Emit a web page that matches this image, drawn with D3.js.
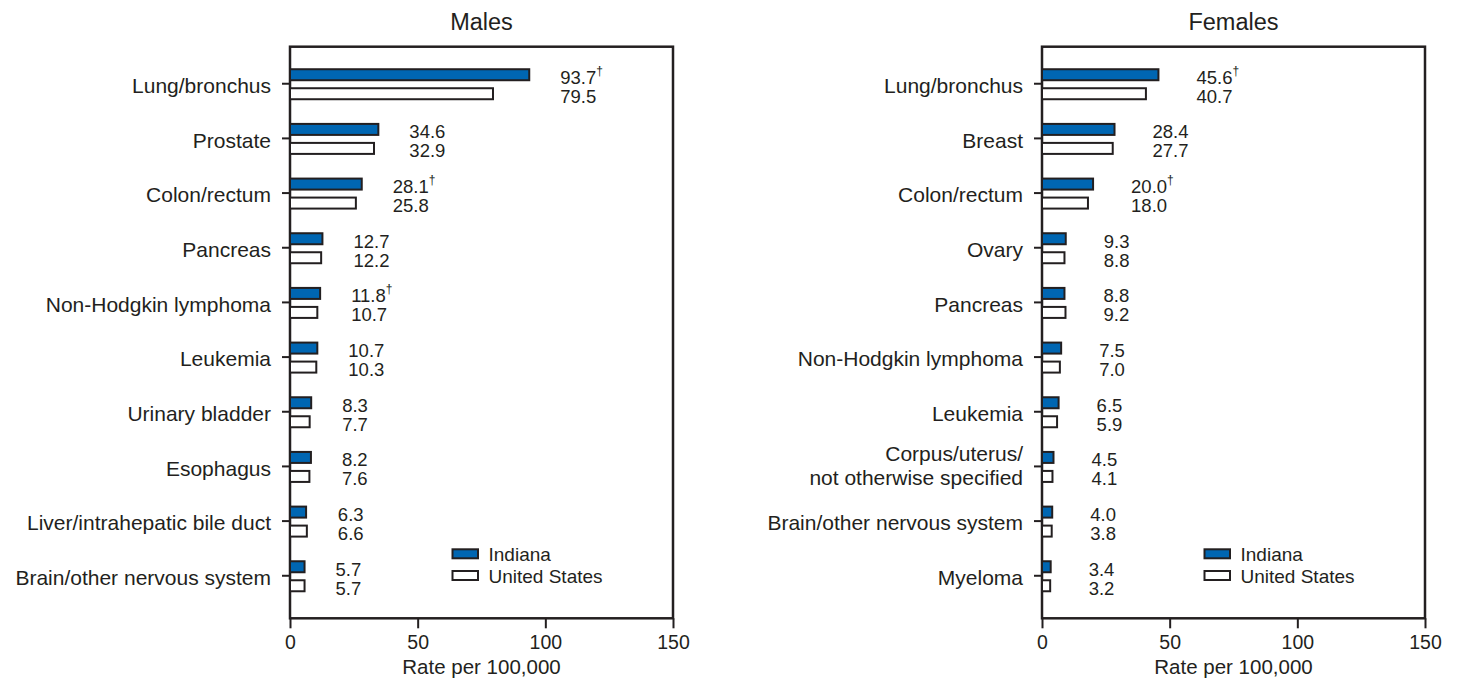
<!DOCTYPE html>
<html>
<head>
<meta charset="utf-8">
<script src="https://cdn.jsdelivr.net/npm/d3@7"></script>
<style>
  body { margin: 0; background: #fff; }
  text { font-family: "Liberation Sans", Arial, Helvetica, sans-serif; fill: #231f20; }
</style>
</head>
<body>
<svg id="chart" width="1460" height="685"></svg>
<script>
// ---------------- DATA ----------------
const maleCategories = ["Lung/bronchus", "Prostate", "Colon/rectum", "Pancreas", "Non-Hodgkin lymphoma",
  "Leukemia", "Urinary bladder", "Esophagus", "Liver/intrahepatic bile duct", "Brain/other nervous system"];
const maleIndiana = [93.7, 34.6, 28.1, 12.7, 11.8, 10.7, 8.3, 8.2, 6.3, 5.7];
const maleUS      = [79.5, 32.9, 25.8, 12.2, 10.7, 10.3, 7.7, 7.6, 6.6, 5.7];
const maleSignificant = [true, false, true, false, true, false, false, false, false, false];

const femaleCategories = ["Lung/bronchus", "Breast", "Colon/rectum", "Ovary", "Pancreas",
  "Non-Hodgkin lymphoma", "Leukemia", "Corpus/uterus/\nnot otherwise specified",
  "Brain/other nervous system", "Myeloma"];
const femaleIndiana = [45.6, 28.4, 20.0, 9.3, 8.8, 7.5, 6.5, 4.5, 4.0, 3.4];
const femaleUS      = [40.7, 27.7, 18.0, 8.8, 9.2, 7.0, 5.9, 4.1, 3.8, 3.2];
const femaleSignificant = [true, false, true, false, false, false, false, false, false, false];

const xTickValues = [0, 50, 100, 150];
const seriesNames = ["Indiana", "United States"];
const panelTitles = ["Males", "Females"];
const axisTitle = "Rate per 100,000";
const significanceMark = "\u2020";

// ---------------- STYLE ----------------
const INK = "#231f20";
const BLUE = "#0066b2";
const TOP = 46.7, BOTTOM = 618.3;

const svg = d3.select("#chart");

function drawPanel(cfg) {
  const g = svg.append("g");
  const x = d3.scaleLinear().domain([0, 150]).range([cfg.left, cfg.right]);
  const y = d3.scaleBand().domain(cfg.categories).range([56.4, 603.1]).padding(0);
  const center = c => y(c) + y.bandwidth() / 2;

  // frame
  g.append("rect")
    .attr("x", cfg.left).attr("y", TOP)
    .attr("width", cfg.right - cfg.left).attr("height", BOTTOM - TOP)
    .attr("fill", "none").attr("stroke", INK).attr("stroke-width", 2.5);

  // title
  g.append("text")
    .attr("x", (cfg.left + cfg.right) / 2).attr("y", 29.5)
    .attr("text-anchor", "middle").style("font-size", "23.5px")
    .text(cfg.title);

  // bars
  const rows = cfg.categories.map((c, i) => ({ c, ind: cfg.indiana[i], us: cfg.us[i], sig: cfg.sig[i] }));

  g.selectAll(".barInd").data(rows).join("rect")
    .attr("x", x(0)).attr("y", d => center(d.c) - 14.5)
    .attr("width", d => x(d.ind) - x(0)).attr("height", 11)
    .attr("fill", BLUE).attr("stroke", INK).attr("stroke-width", 2);

  g.selectAll(".barUS").data(rows).join("rect")
    .attr("x", x(0)).attr("y", d => center(d.c) + 4.5)
    .attr("width", d => x(d.us) - x(0)).attr("height", 11)
    .attr("fill", "#fff").attr("stroke", INK).attr("stroke-width", 2);

  // value labels
  rows.forEach(d => {
    const lx = x(Math.max(d.ind, d.us)) + cfg.labelOffset;
    const t1 = g.append("text").attr("x", lx).attr("y", center(d.c) + 0)
      .style("font-size", "18.5px");
    t1.append("tspan").text(d.ind.toFixed(1));
    if (d.sig) {
      t1.append("tspan").attr("dy", -9).style("font-size", "12px").text(significanceMark);
    }
    g.append("text").attr("x", lx).attr("y", center(d.c) + 19)
      .style("font-size", "18.5px").text(d.us.toFixed(1));
  });

  // left axis (ticks + category labels)
  const yAxis = g.append("g").attr("transform", `translate(${cfg.left},0)`)
    .call(d3.axisLeft(y).tickSize(8).tickPadding(11));
  yAxis.select(".domain").remove();
  yAxis.selectAll(".tick line").attr("stroke", INK).attr("stroke-width", 2);
  yAxis.selectAll(".tick text")
    .style("font-size", "21px").style("font-family", '"Liberation Sans", Arial, sans-serif')
    .attr("fill", INK).attr("dy", "0.44em")
    .each(function (d) {
      const lines = d.split("\n");
      if (lines.length > 1) {
        const t = d3.select(this);
        const xx = t.attr("x");
        t.text(null).attr("dy", null);
        t.append("tspan").attr("x", xx).attr("y", -5).text(lines[0]);
        t.append("tspan").attr("x", xx).attr("y", 18.5).text(lines[1]);
      }
    });

  // bottom axis
  const xAxis = g.append("g").attr("transform", `translate(0,${BOTTOM})`)
    .call(d3.axisBottom(x).tickValues(xTickValues).tickSize(10).tickPadding(7).tickFormat(d3.format("d")));
  xAxis.select(".domain").remove();
  xAxis.selectAll(".tick line").attr("stroke", INK).attr("stroke-width", 2);
  xAxis.selectAll(".tick text")
    .style("font-size", "19.5px").style("font-family", '"Liberation Sans", Arial, sans-serif')
    .attr("fill", INK);

  // axis title
  g.append("text")
    .attr("x", (cfg.left + cfg.right) / 2).attr("y", 674)
    .attr("text-anchor", "middle").style("font-size", "20.5px")
    .text(axisTitle);

  // legend
  const legend = g.append("g").attr("transform", `translate(${cfg.left + 162.5},0)`);
  const fills = [BLUE, "#fff"];
  const legY = [549.3, 571];
  seriesNames.forEach((name, i) => {
    legend.append("rect").attr("x", 0).attr("y", legY[i]).attr("width", 25.5).attr("height", 9)
      .attr("fill", fills[i]).attr("stroke", INK).attr("stroke-width", 2);
    legend.append("text").attr("x", 36).attr("y", legY[i] + 11.7)
      .style("font-size", "19px").text(name);
  });
}

drawPanel({
  title: panelTitles[0], left: 290, right: 673,
  categories: maleCategories, indiana: maleIndiana, us: maleUS, sig: maleSignificant,
  labelOffset: 31
});
drawPanel({
  title: panelTitles[1], left: 1042, right: 1425,
  categories: femaleCategories, indiana: femaleIndiana, us: femaleUS, sig: femaleSignificant,
  labelOffset: 38
});
</script>
</body>
</html>
